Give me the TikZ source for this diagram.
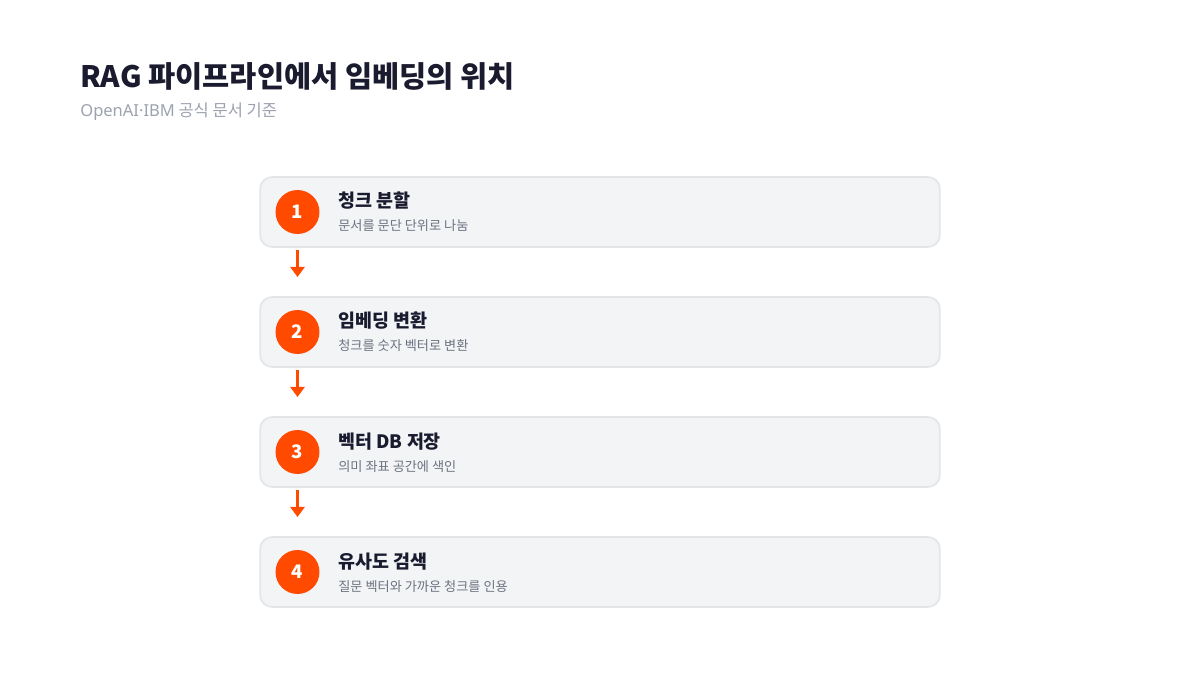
\documentclass[tikz,border=0pt]{standalone}
\usepackage{fontspec}
\setmainfont{Noto Sans CJK KR}
\newfontfamily\latinfont{Noto Sans}
\usetikzlibrary{arrows.meta}
\definecolor{ink}{HTML}{1A1B2E}
\definecolor{subgray}{HTML}{9CA3AF}
\definecolor{descgray}{HTML}{6B7280}
\definecolor{boxfill}{HTML}{F3F4F6}
\definecolor{boxline}{HTML}{E3E5E9}
\definecolor{accent}{HTML}{FF4A00}
\tikzset{
  stepbox/.style={draw=boxline, line width=0.9pt, fill=boxfill, rounded corners=0.24cm,
    minimum width=13.6cm, minimum height=1.4cm, inner sep=0pt},
  numdot/.style={circle, fill=accent, minimum size=0.88cm, inner sep=0pt,
    text=white, font=\fontsize{10.6pt}{12pt}\selectfont\bfseries},
  steptitle/.style={anchor=base west, inner sep=0pt, text=ink,
    font=\fontsize{10.5pt}{12pt}\selectfont\bfseries},
  stepdesc/.style={anchor=base west, inner sep=0pt, text=descgray,
    font=\fontsize{7.5pt}{9pt}\selectfont},
  flowarrow/.style={draw=accent, color=accent, line width=1.2pt,
    -{Triangle[width=8pt,length=5.7pt]}},
}
\begin{document}
\begin{tikzpicture}[x=0.02cm,y=-0.02cm]
\useasboundingbox (0,0) rectangle (1200,675);
\fill[white] (0,0) rectangle (1200,675);
\node[anchor=base west, inner sep=0pt, text=ink, font=\fontsize{16.8pt}{19pt}\selectfont\bfseries] (title) at (80,88) {RAG 파이프라인에서 임베딩의 위치};
\node[anchor=base west, inner sep=0pt, text=subgray, font=\fontsize{9.4pt}{11pt}\selectfont] (subtitle) at (80,117) {{\latinfont OpenAI·IBM} 공식 문서 기준};

\foreach \i/\y/\t/\d in {1/212/청크 분할/문서를 문단 단위로 나눔,
                         2/332/임베딩 변환/청크를 숫자 벡터로 변환,
                         3/452/벡터 DB 저장/의미 좌표 공간에 색인,
                         4/572/유사도 검색/질문 벡터와 가까운 청크를 인용} {
  \node[stepbox] (box\i) at (600,\y) {};
  \node[numdot] (num\i) at (297.5,\y) {\i};
  \node[steptitle] (t\i) at (338,\y-4) {\t};
  \node[stepdesc] (d\i) at (338,\y+19) {\d};
}
\foreach \i/\y in {1/250,2/370,3/490} {
  \coordinate (as\i) at (297.5,\y);
  \coordinate (ae\i) at (297.5,\y+27);
  \draw[flowarrow] (as\i) -- (ae\i);
}
\end{tikzpicture}
\end{document}
